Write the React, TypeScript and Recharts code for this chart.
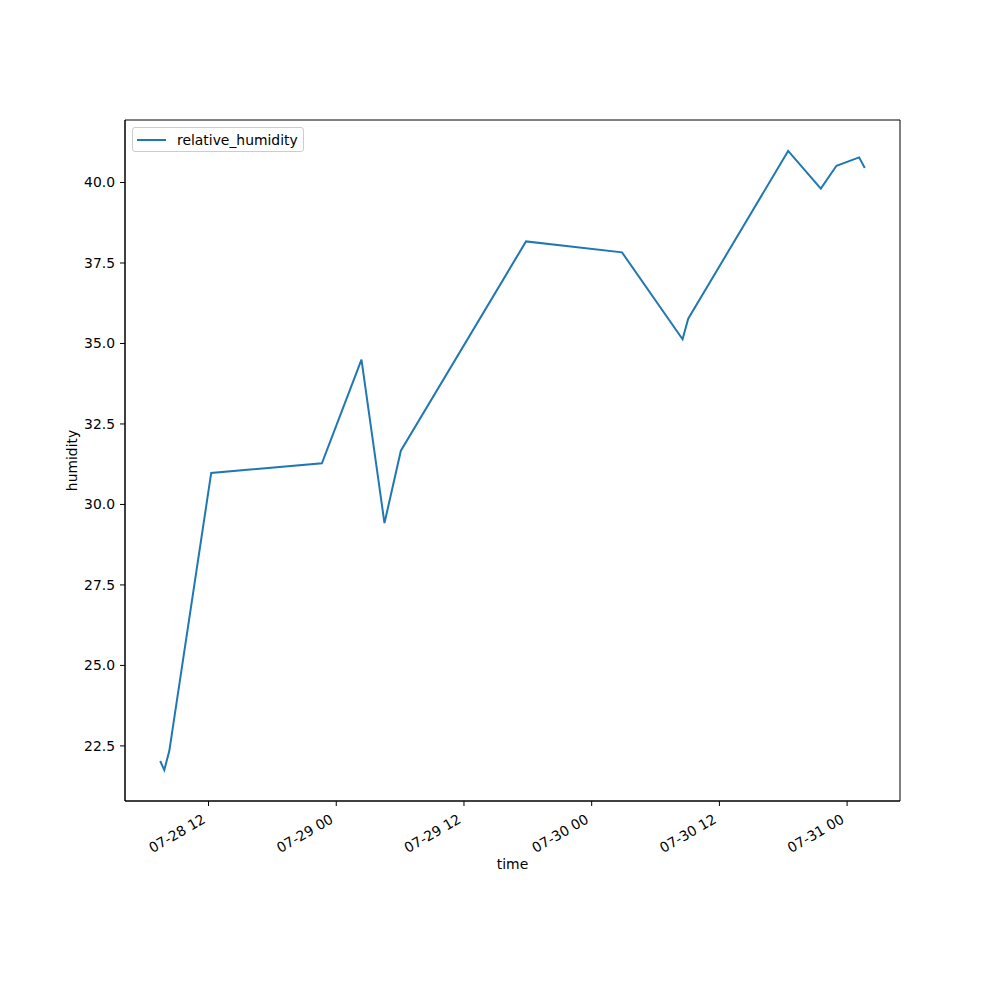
import { LineChart, Line, XAxis, YAxis, Legend, ReferenceArea } from "recharts";

// hours since 07-28 00:00
const hoursSinceStart = [
  7.46, 7.84, 8.31, 12.25, 22.65, 26.37, 28.53, 30.07, 41.83, 50.85, 56.54, 57.07,
  66.46, 69.53, 71.0, 73.13, 73.66,
];
const relativeHumidity = [
  22.03, 21.75, 22.34, 30.98, 31.28, 34.5, 29.42, 31.67, 38.17, 37.83, 35.13, 35.77,
  40.98, 39.81, 40.52, 40.78, 40.45,
];

const xTickHours = [12, 24, 36, 48, 60, 72];
const xTickLabels = ["07-28 12", "07-29 00", "07-29 12", "07-30 00", "07-30 12", "07-31 00"];
const yTicks = [22.5, 25.0, 27.5, 30.0, 32.5, 35.0, 37.5, 40.0];

const data = hoursSinceStart.map((t, i) => ({ t, relative_humidity: relativeHumidity[i] }));

// matplotlib-style 5% margins
const pad = (lo: number, hi: number): [number, number] => {
  const m = (hi - lo) * 0.05;
  return [lo - m, hi + m];
};
const [xMin, xMax] = pad(Math.min(...hoursSinceStart), Math.max(...hoursSinceStart));
const [yMin, yMax] = pad(Math.min(...relativeHumidity), Math.max(...relativeHumidity));

const FONT = "DejaVu Sans, sans-serif";
const BLUE = "#1f77b4";

const XTick = (props: any) => {
  const { x, y, payload } = props;
  const idx = xTickHours.indexOf(payload.value);
  return (
    <text
      x={x - 2}
      y={y + 16}
      transform={`rotate(-30, ${x - 2}, ${y + 16})`}
      textAnchor="end"
      fontFamily={FONT}
      fontSize={13.9}
      fill="#000"
    >
      {idx >= 0 ? xTickLabels[idx] : ""}
    </text>
  );
};

const LegendBox = () => (
  <div
    style={{
      border: "1px solid #cccccc",
      borderRadius: 3,
      background: "rgba(255,255,255,0.8)",
      width: 172,
      height: 25,
      display: "flex",
      alignItems: "center",
      fontFamily: FONT,
      fontSize: 13.9,
      boxSizing: "border-box",
    }}
  >
    <svg width={40} height={20} style={{ marginLeft: 4 }}>
      <line x1={0} y1={10} x2={29} y2={10} stroke={BLUE} strokeWidth={2} />
    </svg>
    <span style={{ marginLeft: 0, color: "#000" }}>relative_humidity</span>
  </div>
);

const App = () => {
  return (
    <div style={{ position: "absolute", left: 0, top: 0, width: 1000, height: 1000, background: "#fff" }}>
      <LineChart
        width={1000}
        height={1000}
        data={data}
        margin={{ top: 120, right: 100, bottom: 119, left: 65 }}
      >
        <XAxis
          dataKey="t"
          type="number"
          domain={[xMin, xMax]}
          ticks={xTickHours}
          allowDataOverflow
          height={80}
          stroke="#000"
          tickSize={5}
          tickMargin={0}
          tick={<XTick />}
          label={(p: any) => {
            const vb = p.viewBox;
            return (
              <text
                x={vb.x + vb.width / 2}
                y={vb.y + 68}
                textAnchor="middle"
                fontFamily={FONT}
                fontSize={13.9}
                fill="#000"
              >
                time
              </text>
            );
          }}
        />
        <YAxis
          type="number"
          domain={[yMin, yMax]}
          ticks={yTicks}
          allowDataOverflow
          width={60}
          stroke="#000"
          tickSize={5}
          tickMargin={5}
          tick={{ fill: "#000", fontFamily: FONT, fontSize: 13.9 }}
          tickFormatter={(v: number) => v.toFixed(1)}
          label={(p: any) => {
            const vb = p.viewBox;
            const cx = 72;
            const cy = vb.y + vb.height / 2;
            return (
              <text
                x={cx}
                y={cy}
                transform={`rotate(-90, ${cx}, ${cy})`}
                textAnchor="middle"
                dominantBaseline="central"
                fontFamily={FONT}
                fontSize={13.9}
                fill="#000"
              >
                humidity
              </text>
            );
          }}
        />
        <ReferenceArea
          x1={xMin}
          x2={xMax}
          y1={yMin}
          y2={yMax}
          fill="none"
          stroke="#000"
          strokeWidth={1}
          ifOverflow="visible"
        />
        <Legend
          layout="horizontal"
          align="center"
          verticalAlign="middle"
          content={<LegendBox />}
          wrapperStyle={{ position: "absolute", left: 132, top: 127, width: "auto" }}
        />
        <Line
          type="linear"
          dataKey="relative_humidity"
          stroke={BLUE}
          strokeWidth={2}
          dot={false}
          activeDot={false}
          isAnimationActive={false}
        />
      </LineChart>
    </div>
  );
};

export default App;
